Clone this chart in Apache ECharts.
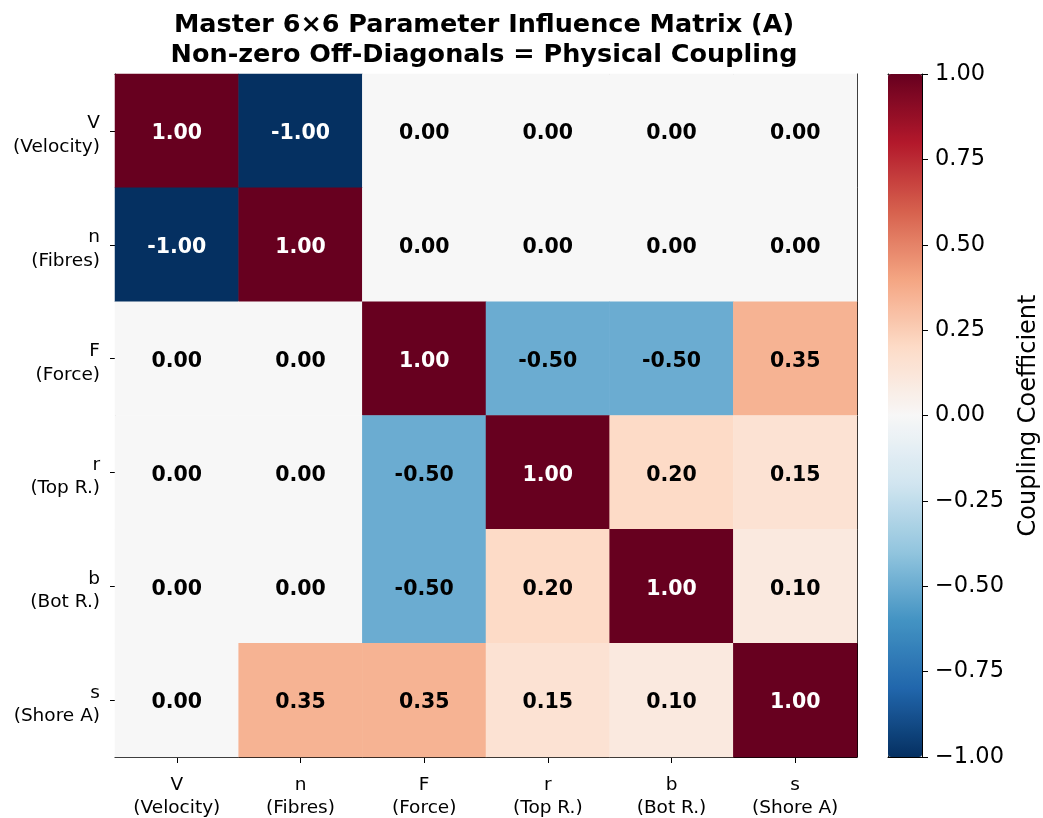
<!DOCTYPE html>
<html>
<head>
<meta charset="utf-8">
<script src="https://cdn.jsdelivr.net/npm/echarts@6/dist/echarts.min.js"></script>
<style>html,body{margin:0;padding:0;background:#fff;}#c{width:1043px;height:818px;}</style>
</head>
<body>
<div id="c"></div>
<script>
const categories = ['V\n(Velocity)', 'n\n(Fibres)', 'F\n(Force)', 'r\n(Top R.)', 'b\n(Bot R.)', 's\n(Shore A)'];
const matrix = [
  [1.00, -1.00, 0.00, 0.00, 0.00, 0.00],
  [-1.00, 1.00, 0.00, 0.00, 0.00, 0.00],
  [0.00, 0.00, 1.00, -0.50, -0.50, 0.35],
  [0.00, 0.00, -0.50, 1.00, 0.20, 0.15],
  [0.00, 0.00, -0.50, 0.20, 1.00, 0.10],
  [0.00, 0.35, 0.35, 0.15, 0.10, 1.00]
];
const colorbarTicks = [-1.00, -0.75, -0.50, -0.25, 0.00, 0.25, 0.50, 0.75, 1.00];
const rdbu = ['#053061','#2166ac','#4393c3','#92c5de','#d1e5f0','#f7f7f7','#fddbc7','#f4a582','#d6604d','#b2182b','#67001f'];

const data = [];
matrix.forEach((row, r) => row.forEach((v, c) => {
  data.push({value: [c, r, v], label: {color: Math.abs(v) >= 0.75 ? '#ffffff' : '#000000'}});
}));

const FONT = 'DejaVu Sans';
const G = {left: 115, top: 74, width: 742, height: 683, outerBoundsMode: 'none', containLabel: false};
const CB = {left: 888, top: 74, width: 34, height: 683, outerBoundsMode: 'none', containLabel: false};

const chart = echarts.init(document.getElementById('c'), null, {renderer: 'canvas'});
chart.setOption({
  animation: false,
  backgroundColor: '#ffffff',
  textStyle: {fontFamily: FONT},
  title: {
    text: 'Master 6×6 Parameter Influence Matrix (A)\nNon-zero Off-Diagonals = Physical Coupling',
    left: 484, top: 10, textAlign: 'center', padding: 0,
    textStyle: {fontFamily: FONT, fontWeight: 'bold', fontSize: 25.5, lineHeight: 30, color: '#000'}
  },
  grid: [
    Object.assign({}, G),
    Object.assign({}, CB)
  ],
  xAxis: [
    {type: 'category', data: categories, gridIndex: 0, position: 'bottom',
     axisLine: {show: true, lineStyle: {color: '#000', width: 1}},
     axisTick: {show: true, alignWithLabel: true, length: 6, lineStyle: {color: '#000'}},
     axisLabel: {fontFamily: FONT, fontSize: 18.5, color: '#000', lineHeight: 23, margin: 17},
     splitLine: {show: false}},
    {type: 'category', data: categories, gridIndex: 0, position: 'top',
     axisLine: {show: true, lineStyle: {color: '#000', width: 1}},
     axisTick: {show: false}, axisLabel: {show: false}, splitLine: {show: false}},
    {type: 'value', gridIndex: 1, min: 0, max: 1, position: 'bottom',
     axisLine: {show: true, onZero: false, lineStyle: {color: '#000', width: 1}},
     axisTick: {show: false}, axisLabel: {show: false}, splitLine: {show: false}},
    {type: 'value', gridIndex: 1, min: 0, max: 1, position: 'top',
     axisLine: {show: true, onZero: false, lineStyle: {color: '#000', width: 1}},
     axisTick: {show: false}, axisLabel: {show: false}, splitLine: {show: false}}
  ],
  yAxis: [
    {type: 'category', data: categories, gridIndex: 0, inverse: true, position: 'left',
     axisLine: {show: true, lineStyle: {color: '#000', width: 1}},
     axisTick: {show: true, alignWithLabel: true, length: 5, lineStyle: {color: '#000'}},
     axisLabel: {fontFamily: FONT, fontSize: 18.5, color: '#000', margin: 15, align: 'right',
       formatter: v => '{s| }\n' + v.split('\n').map(t => '{a|' + t + '}').join('\n'),
       rich: {
         s: {fontFamily: FONT, fontSize: 2, lineHeight: 9, align: 'right'},
         a: {fontFamily: FONT, fontSize: 18.5, lineHeight: 23.5, color: '#000', align: 'right'}
       }},
     splitLine: {show: false}},
    {type: 'category', data: categories, gridIndex: 0, inverse: true, position: 'right',
     axisLine: {show: true, lineStyle: {color: '#000', width: 1}},
     axisTick: {show: false}, axisLabel: {show: false}, splitLine: {show: false}},
    {type: 'value', gridIndex: 1, min: -1, max: 1, interval: 0.25, position: 'right',
     axisLine: {show: true, onZero: false, lineStyle: {color: '#000', width: 1}},
     axisTick: {show: true, length: 6, lineStyle: {color: '#000'}},
     axisLabel: {fontFamily: FONT, fontSize: 22.5, color: '#000', margin: 13,
       formatter: v => { const t = colorbarTicks.find(x => Math.abs(x - v) < 1e-9); const n = (t === undefined ? v : t); return (n < 0 ? '\u2212' : '') + Math.abs(n).toFixed(2); }},
     name: 'Coupling Coefficient', nameLocation: 'middle', nameRotate: 90, nameGap: 95,
     nameTextStyle: {fontFamily: FONT, fontSize: 24, color: '#000'},
     splitLine: {show: false}},
    {type: 'value', gridIndex: 1, min: -1, max: 1, position: 'left',
     axisLine: {show: true, onZero: false, lineStyle: {color: '#000', width: 1}},
     axisTick: {show: false}, axisLabel: {show: false}, splitLine: {show: false}}
  ],
  visualMap: {
    type: 'continuous', min: -1, max: 1, seriesIndex: 0, calculable: false,
    orient: 'vertical', left: CB.left, top: CB.top, itemWidth: CB.width, itemHeight: CB.height,
    padding: 0, text: null, showLabel: false, hoverLink: false,
    inRange: {color: rdbu}
  },
  series: [{
    type: 'heatmap', xAxisIndex: 0, yAxisIndex: 0, data: data,
    label: {show: true, fontFamily: FONT, fontWeight: 'bold', fontSize: 20.5, offset: [0, 3],
      formatter: p => p.value[2].toFixed(2)},
    itemStyle: {borderWidth: 0},
    emphasis: {disabled: true}
  }]
});
</script>
</body>
</html>
